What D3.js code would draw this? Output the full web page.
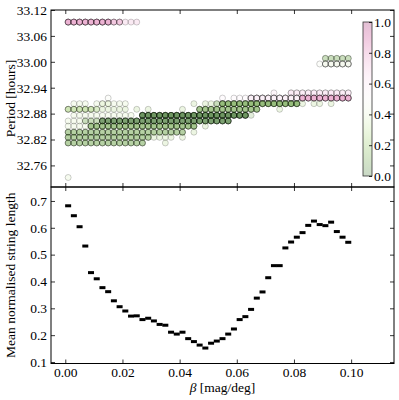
<!DOCTYPE html>
<html>
<head>
<meta charset="utf-8">
<script src="https://cdn.jsdelivr.net/npm/d3@7"></script>
<style>
  body { margin: 0; background: #fff; }
  text { font-family: "Liberation Serif", "Times New Roman", serif; }
</style>
</head>
<body>
<svg width="399" height="400"></svg>
<script>
// beta grid shared by both panels
const betas = [0.001, 0.003, 0.005, 0.007, 0.009, 0.011, 0.013, 0.015, 0.017, 0.019,
  0.021, 0.023, 0.025, 0.027, 0.029, 0.031, 0.033, 0.035, 0.037, 0.039,
  0.041, 0.043, 0.045, 0.047, 0.049, 0.051, 0.053, 0.055, 0.057, 0.059,
  0.061, 0.063, 0.065, 0.067, 0.069, 0.071, 0.073, 0.075, 0.077, 0.079,
  0.081, 0.083, 0.085, 0.087, 0.089, 0.091, 0.093, 0.095, 0.097, 0.099];

const meanStringLength = [0.682, 0.645, 0.604, 0.532, 0.433, 0.410, 0.377, 0.362, 0.328, 0.306,
  0.290, 0.271, 0.272, 0.258, 0.263, 0.253, 0.240, 0.237, 0.211, 0.204,
  0.211, 0.187, 0.176, 0.163, 0.152, 0.170, 0.178, 0.187, 0.204, 0.223,
  0.258, 0.269, 0.296, 0.338, 0.361, 0.414, 0.459, 0.459, 0.525, 0.547,
  0.565, 0.582, 0.609, 0.625, 0.612, 0.608, 0.621, 0.586, 0.565, 0.546];

// period levels found, one row per level
const periods = [33.092, 33.008, 32.995, 32.928, 32.916, 32.903, 32.890,
  32.876, 32.863, 32.851, 32.837, 32.825, 32.812, 32.732];

// runs landing on each (period, beta): one char per beta, '.' = none
const runCounts = [
  ['5555555533', '111.......', '..........', '..........', '..........'],
  ['..........', '..........', '..........', '..........', '.....22222'],
  ['..........', '..........', '..........', '..........', '....144444'],
  ['..........', '..........', '..........', '......1..2', '2222222222'],
  ['.......1..', '..........', '.......1.1', '1155555555', '5555555555'],
  ['.111.12211', '1.........', '..1.112555', '5555555555', '51.11.1...'],
  ['3333321111', '1.1.1.....', '1..4444444', '4444...1..', '..........'],
  ['.111111111', '11.6666666', '6666666666', '661.......', '..........'],
  ['1112225555', '5555555555', '555555555.', '..........', '..........'],
  ['1111444444', '4444444444', '444.1.....', '..........', '..........'],
  ['3333333333', '3333333333', '3.1.......', '..........', '..........'],
  ['3333333333', '333331111.', '1.........', '..........', '..........'],
  ['3333333333', '3333...1..', '..........', '..........', '..........'],
  ['1.........', '..........', '..........', '..........', '..........']
];

// normalised string length of those runs, digit/9
const runColours = [
  ['7777777777', '777.......', '..........', '..........', '..........'],
  ['..........', '..........', '..........', '..........', '.....11111'],
  ['..........', '..........', '..........', '..........', '....444444'],
  ['..........', '..........', '..........', '......6..6', '6666666666'],
  ['.......4..', '..........', '.......5.5', '5555555555', '5777777777'],
  ['.333.33333', '3.........', '..2.221111', '1111111111', '12.22.2...'],
  ['2222222222', '2.2.2.....', '2..1111111', '1111...2..', '..........'],
  ['.333333333', '33.0000000', '0000000000', '001.......', '..........'],
  ['3331110000', '0000000000', '000000000.', '..........', '..........'],
  ['3333111111', '1111111111', '111.2.....', '..........', '..........'],
  ['1111111111', '1111111111', '1.2.......', '..........', '..........'],
  ['1111111111', '111112222.', '2.........', '..........', '..........'],
  ['1111111111', '1111...2..', '..........', '..........', '..........'],
  ['3.........', '..........', '..........', '..........', '..........']
];

const periodTicks = [32.76, 32.82, 32.88, 32.94, 33.00, 33.06, 33.12];
const lengthTicks = [0.1, 0.2, 0.3, 0.4, 0.5, 0.6, 0.7];
const betaTicks = [0, 0.02, 0.04, 0.06, 0.08, 0.10];
const colourTicks = [0, 0.2, 0.4, 0.6, 0.8, 1.0];

const left = 51, right = 394, topY = 10, midY = 187, botY = 363.5;
const FONT = 13.5, FILL_ALPHA = 0.17, EDGE_ALPHA = 0.24;
const SERIF = '"Liberation Serif", "Times New Roman", serif';

const svg = d3.select('svg');

const x = d3.scaleLinear([-0.005, 0.115], [left, right]);
const yTop = d3.scaleLinear([32.71, 33.12], [midY, topY]);
const yBot = d3.scaleLinear([0.0944, 0.752], [botY, midY]);
const colour = v => d3.interpolatePiYG(1 - v);

// build the scatter points from the row strings
const points = [];
periods.forEach((p, r) => {
  const n = runCounts[r].join('');
  const c = runColours[r].join('');
  for (let i = 0; i < betas.length; i++) {
    if (n[i] === '.') continue;
    for (let k = 0; k < +n[i]; k++) {
      points.push({beta: betas[i], period: p, v: +c[i] / 9});
    }
  }
});

svg.append('g')
  .selectAll('circle')
  .data(points)
  .join('circle')
  .attr('cx', d => x(d.beta))
  .attr('cy', d => yTop(d.period))
  .attr('r', 3)
  .attr('fill', d => colour(d.v))
  .attr('fill-opacity', FILL_ALPHA)
  .attr('stroke', '#000')
  .attr('stroke-opacity', EDGE_ALPHA)
  .attr('stroke-width', 0.8);

// bottom panel markers
svg.append('g')
  .selectAll('rect')
  .data(meanStringLength)
  .join('rect')
  .attr('x', (d, i) => x(betas[i]) - 3)
  .attr('y', d => yBot(d) - 1.5)
  .attr('width', 6)
  .attr('height', 3)
  .attr('fill', '#000');

function styleAxis(g, labels) {
  g.attr('font-family', SERIF);
  g.select('.domain').remove();
  g.selectAll('.tick line').attr('stroke', '#000').attr('stroke-width', 0.8);
  g.selectAll('text').attr('font-size', FONT).attr('fill', '#000');
  if (!labels) g.selectAll('text').remove();
}

function panelAxes(y0, y1, yScale, yTicks, yFmt, xLabels) {
  svg.append('g').attr('transform', `translate(${left},0)`)
    .call(d3.axisLeft(yScale).tickValues(yTicks).tickFormat(yFmt).tickSizeInner(-4).tickSizeOuter(0).tickPadding(4))
    .call(g => styleAxis(g, true));
  svg.append('g').attr('transform', `translate(${right},0)`)
    .call(d3.axisRight(yScale).tickValues(yTicks).tickSizeInner(-4).tickSizeOuter(0))
    .call(g => styleAxis(g, false));
  svg.append('g').attr('transform', `translate(0,${y0})`)
    .call(d3.axisTop(x).tickValues(betaTicks).tickSizeInner(-4).tickSizeOuter(0))
    .call(g => styleAxis(g, false));
  svg.append('g').attr('transform', `translate(0,${y1})`)
    .call(d3.axisBottom(x).tickValues(betaTicks).tickFormat(d3.format('.2f')).tickSizeInner(-4).tickSizeOuter(0).tickPadding(4))
    .call(g => styleAxis(g, xLabels));
  svg.append('rect')
    .attr('x', left).attr('y', y0)
    .attr('width', right - left).attr('height', y1 - y0)
    .attr('fill', 'none').attr('stroke', '#000').attr('stroke-width', 1);
}

panelAxes(topY, midY, yTop, periodTicks, d3.format('.2f'), false);
panelAxes(midY, botY, yBot, lengthTicks, d3.format('.1f'), true);

// colorbar
const cbX = 363, cbW = 9, cbTop = 22, cbBot = 176;
const cScale = d3.scaleLinear([0, 1], [cbBot, cbTop]);
const grad = svg.append('defs').append('linearGradient')
  .attr('id', 'cbGrad').attr('x1', 0).attr('y1', 1).attr('x2', 0).attr('y2', 0);
grad.selectAll('stop')
  .data(d3.range(0, 1.0001, 0.05))
  .join('stop')
  .attr('offset', d => d)
  .attr('stop-color', d => colour(d))
  .attr('stop-opacity', 0.25);
svg.append('rect')
  .attr('x', cbX).attr('y', cbTop).attr('width', cbW).attr('height', cbBot - cbTop)
  .attr('fill', 'url(#cbGrad)').attr('stroke', '#333').attr('stroke-width', 0.8);
svg.append('g').attr('transform', `translate(${cbX + cbW},0)`)
  .call(d3.axisRight(cScale).tickValues(colourTicks).tickFormat(d3.format('.1f')).tickSizeInner(-3).tickSizeOuter(0).tickPadding(2))
  .call(g => styleAxis(g, true));

// axis titles
svg.append('text')
  .attr('transform', `translate(15,${(topY + midY) / 2}) rotate(-90)`)
  .attr('text-anchor', 'middle').attr('font-size', FONT).attr('font-family', SERIF)
  .text('Period [hours]');
svg.append('text')
  .attr('transform', `translate(15,${(midY + botY) / 2}) rotate(-90)`)
  .attr('text-anchor', 'middle').attr('font-size', FONT).attr('font-family', SERIF)
  .text('Mean normalised string length');
const xt = svg.append('text')
  .attr('x', (left + right) / 2).attr('y', 392)
  .attr('text-anchor', 'middle').attr('font-size', FONT).attr('font-family', SERIF);
xt.append('tspan').attr('font-style', 'italic').text('β');
xt.append('tspan').text(' [mag/deg]');
</script>
</body>
</html>
